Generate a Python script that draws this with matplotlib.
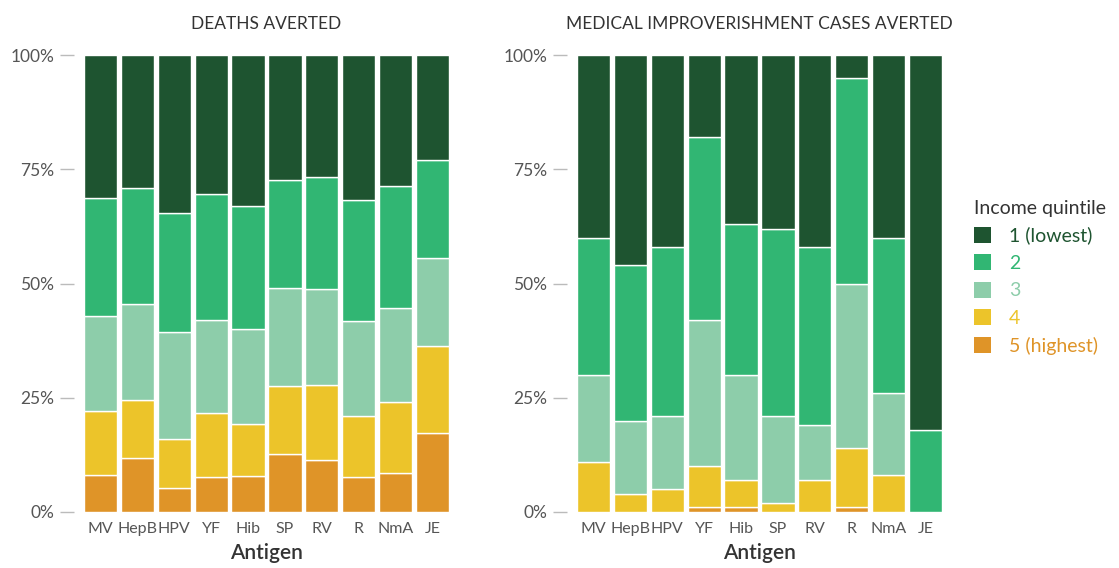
import matplotlib.pyplot as plt
import numpy as np
from matplotlib.patches import Patch

plt.rcParams['font.family'] = ['Lato', 'DejaVu Sans']

antigens = ["MV", "HepB", "HPV", "YF", "Hib", "SP", "RV", "R", "NmA", "JE"]
quintiles = ["1 (lowest)", "2", "3", "4", "5 (highest)"]
colors = ["#1e5430", "#31b673", "#8dcdaa", "#ecc42a", "#df9428"]

# shares (%) per quintile, bottom (5) to top (1)
deaths_q5 = [8.1, 11.8, 5.2, 7.7, 7.9, 12.7, 11.3, 7.7, 8.6, 17.2]
deaths_q4 = [14.1, 12.8, 10.8, 13.9, 11.4, 14.9, 16.5, 13.4, 15.4, 19.1]
deaths_q3 = [20.6, 20.9, 23.3, 20.4, 20.8, 21.4, 21.0, 20.7, 20.7, 19.2]
deaths_q2 = [26.0, 25.3, 26.2, 27.5, 26.8, 23.7, 24.6, 26.4, 26.6, 21.5]
deaths_q1 = [31.2, 29.2, 34.5, 30.5, 33.1, 27.3, 26.6, 31.8, 28.7, 23.0]

impov_q5 = [0, 0, 0, 1, 1, 0, 0, 1, 0, 0]
impov_q4 = [11, 4, 5, 9, 6, 2, 7, 13, 8, 0]
impov_q3 = [19, 16, 16, 32, 23, 19, 12, 36, 18, 0]
impov_q2 = [30, 34, 37, 40, 33, 41, 39, 45, 34, 18]
impov_q1 = [40, 46, 42, 18, 37, 38, 42, 5, 40, 82]

W, H = 1119, 568
fig = plt.figure(figsize=(W / 100, H / 100), dpi=100)
ax1 = fig.add_axes([82 / W, 56 / H, 369 / W, 457 / H])
ax2 = fig.add_axes([575 / W, 56 / H, 369 / W, 457 / H])

panels = [
    (ax1, "DEATHS AVERTED", [deaths_q5, deaths_q4, deaths_q3, deaths_q2, deaths_q1]),
    (ax2, "MEDICAL IMPROVERISHMENT CASES AVERTED", [impov_q5, impov_q4, impov_q3, impov_q2, impov_q1]),
]

x = np.arange(len(antigens))
for ax, title, stack in panels:
    bottom = np.zeros(len(antigens))
    for i, vals in enumerate(stack):
        vals = np.array(vals, dtype=float)
        ax.bar(x, vals, bottom=bottom, width=0.9, color=colors[4 - i],
               edgecolor="white", linewidth=1)
        bottom += vals
    ax.set_xlim(-0.5, len(antigens) - 0.5)
    ax.set_ylim(0, 100)
    ax.set_xticks(x)
    ax.set_xticklabels(antigens)
    ax.set_yticks([0, 25, 50, 75, 100])
    ax.set_yticklabels(["0%", "25%", "50%", "75%", "100%"])
    for s in ax.spines.values():
        s.set_visible(False)
    ax.spines['left'].set_position(('outward', 6))
    ax.tick_params(axis='y', length=10, width=1, color="#bbbbbb",
                   labelsize=12.5, labelcolor="#555555", pad=4)
    ax.tick_params(axis='x', length=0, labelsize=11.5, labelcolor="#555555", pad=7)
    ax.set_xlabel("Antigen", fontsize=15, color="#333333", labelpad=5,
                  fontweight="semibold")
    ax.set_title(title, fontsize=12.5, color="#333333", pad=19)

handles = [Patch(facecolor=c, edgecolor="none") for c in colors]
leg = fig.legend(handles, quintiles, loc="upper left",
                 bbox_to_anchor=(968 / W, 1 - 194 / H), frameon=False,
                 title="Income quintile", title_fontsize=14, fontsize=14,
                 labelcolor=colors, handlelength=0.9, handleheight=0.9,
                 handletextpad=0.9, labelspacing=0.5, alignment="left",
                 borderaxespad=0, borderpad=0.3)
leg.get_title().set_color("#333333")

fig.savefig("out.png", dpi=100)
